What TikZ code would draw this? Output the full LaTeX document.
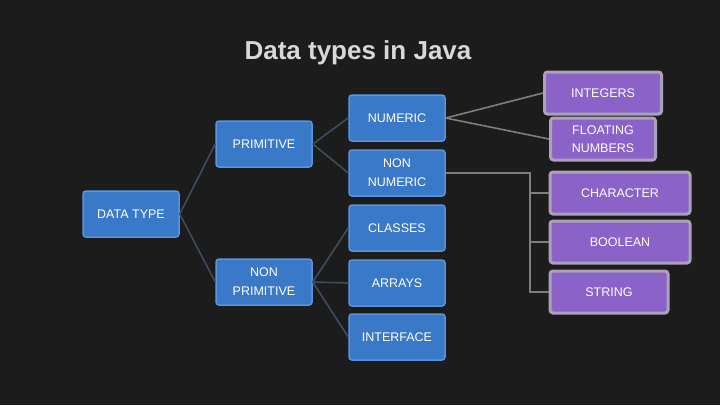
\documentclass[tikz,border=0pt]{standalone}
\usepackage{fontspec}
\setmainfont{Liberation Sans}
\definecolor{bg}{HTML}{1C1C1C}
\definecolor{bluefill}{HTML}{3A78C8}
\definecolor{blueedge}{HTML}{5A95DC}
\definecolor{purfill}{HTML}{8A62C8}
\definecolor{puredge}{HTML}{ABA2B8}
\definecolor{lineblue}{HTML}{3D4C5E}
\definecolor{linegrey}{HTML}{7E7E7E}
\definecolor{titlec}{HTML}{D8D8D8}
\begin{document}
\begin{tikzpicture}[x=1pt,y=-1pt,
  bbox/.style={draw=blueedge,line width=1.5pt,fill=bluefill,rounded corners=3pt,
    minimum width=96pt,minimum height=46pt,text=white,align=center,
    font=\fontsize{12.5}{19}\selectfont,inner sep=1pt},
  pbox/.style={draw=puredge,line width=3pt,fill=purfill,rounded corners=3pt,
    minimum height=42pt,text=white,align=center,
    font=\fontsize{12.5}{18}\selectfont,inner sep=1pt},
  tl/.style={draw=lineblue,line width=1.6pt},
  gl/.style={draw=linegrey,line width=1.6pt}]
\fill[bg] (0,0) rectangle (720,405);
\useasboundingbox (0,0) rectangle (720,405);
\node[text=titlec,font=\fontsize{26}{30}\selectfont\bfseries] (title) at (358,53) {Data types in Java};
\node[bbox] (dt) at (131,214) {DATA TYPE};
\node[bbox] (pr) at (264,144) {PRIMITIVE};
\node[bbox] (np) at (264,282) {NON\\PRIMITIVE};
\node[bbox] (nu) at (397,118) {NUMERIC};
\node[bbox] (nn) at (397,173) {NON\\NUMERIC};
\node[bbox] (cl) at (397,228) {CLASSES};
\node[bbox] (ar) at (397,283) {ARRAYS};
\node[bbox] (in) at (397,337) {INTERFACE};
\node[pbox,minimum width=117pt] (ig) at (603,93) {INTEGERS};
\node[pbox,minimum width=105pt] (fl) at (603,139) {FLOATING\\NUMBERS};
\node[pbox,minimum width=140pt] (ch) at (620,193) {CHARACTER};
\node[pbox,minimum width=140pt] (bo) at (620,242) {BOOLEAN};
\node[pbox,minimum width=118pt] (st) at (609,292) {STRING};
\draw[tl] (dt.east) -- (pr.west);
\draw[tl] (dt.east) -- (np.west);
\draw[tl] (pr.east) -- (nu.west);
\draw[tl] (pr.east) -- (nn.west);
\draw[tl] (np.east) -- (cl.west);
\draw[tl] (np.east) -- (ar.west);
\draw[tl] (np.east) -- (in.west);
\draw[gl] (nu.east) -- (ig.west);
\draw[gl] (nu.east) -- (fl.west);
\coordinate (j) at (530,173);
\draw[gl] (nn.east) -- (j) |- (st.west);
\draw[gl] (j |- ch.west) -- (ch.west);
\draw[gl] (j |- bo.west) -- (bo.west);
\end{tikzpicture}
\end{document}
